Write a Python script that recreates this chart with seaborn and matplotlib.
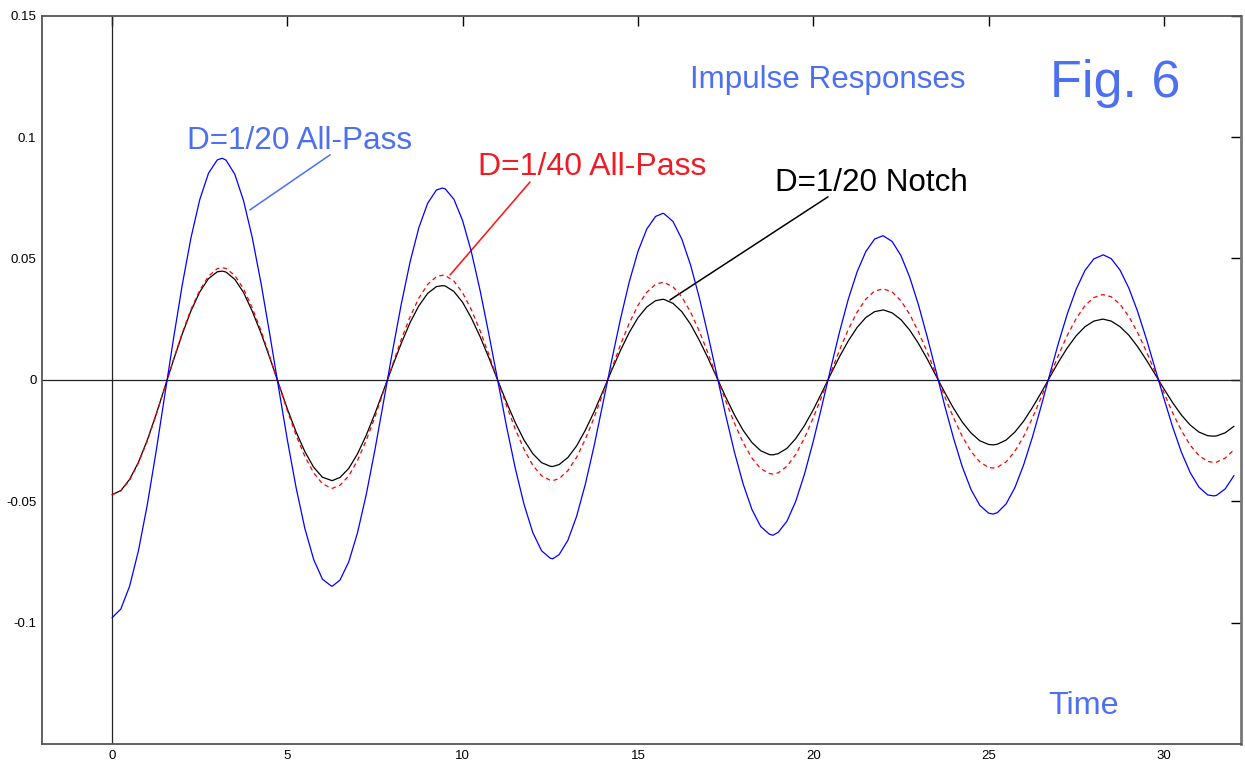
import numpy as np
import pandas as pd
import matplotlib
matplotlib.use('Agg')
import matplotlib.pyplot as plt
import seaborn as sns

time = np.arange(0, 32.25, 0.25)

# D=1/20 all-pass impulse response
allpass_20 = [
    -0.0980, -0.0944, -0.0850, -0.0705, -0.0518, -0.0300, -0.0067, 0.0168,
    0.0390, 0.0585, 0.0742, 0.0851, 0.0906, 0.0905, 0.0847, 0.0738,
    0.0585, 0.0397, 0.0186, -0.0033, -0.0248, -0.0445, -0.0613, -0.0740,
    -0.0821, -0.0849, -0.0825, -0.0750, -0.0630, -0.0472, -0.0286, -0.0085,
    0.0119, 0.0313, 0.0486, 0.0627, 0.0727, 0.0782, 0.0787, 0.0744,
    0.0655, 0.0526, 0.0366, 0.0186, -0.0003, -0.0191, -0.0364, -0.0513,
    -0.0629, -0.0704, -0.0735, -0.0720, -0.0661, -0.0562, -0.0429, -0.0271,
    -0.0097, 0.0080, 0.0250, 0.0403, 0.0529, 0.0621, 0.0673, 0.0684,
    0.0652, 0.0580, 0.0473, 0.0338, 0.0183, 0.0019, -0.0144, -0.0297,
    -0.0429, -0.0534, -0.0604, -0.0636, -0.0628, -0.0582, -0.0500, -0.0388,
    -0.0253, -0.0105, 0.0049, 0.0198, 0.0333, 0.0445, 0.0529, 0.0580,
    0.0593, 0.0570, 0.0512, 0.0423, 0.0309, 0.0177, 0.0036, -0.0107,
    -0.0240, -0.0358, -0.0452, -0.0517, -0.0549, -0.0547, -0.0511, -0.0444,
    -0.0350, -0.0236, -0.0108, 0.0025, 0.0155, 0.0274, 0.0374, 0.0451,
    0.0498, 0.0514, 0.0499, 0.0452, 0.0378, 0.0282, 0.0169, 0.0047,
    -0.0076, -0.0194, -0.0298, -0.0382, -0.0442, -0.0474, -0.0476, -0.0449,
    -0.0394,
]

# D=1/40 all-pass impulse response
allpass_40 = [
    -0.0473, -0.0457, -0.0413, -0.0343, -0.0253, -0.0147, -0.0033, 0.0083,
    0.0193, 0.0290, 0.0369, 0.0427, 0.0458, 0.0459, 0.0430, 0.0375,
    0.0296, 0.0202, 0.0095, -0.0017, -0.0127, -0.0229, -0.0316, -0.0383,
    -0.0428, -0.0446, -0.0434, -0.0396, -0.0332, -0.0249, -0.0152, -0.0045,
    0.0063, 0.0167, 0.0260, 0.0337, 0.0393, 0.0425, 0.0430, 0.0407,
    0.0358, 0.0288, 0.0201, 0.0103, -0.0002, -0.0106, -0.0203, -0.0286,
    -0.0352, -0.0395, -0.0414, -0.0407, -0.0374, -0.0319, -0.0244, -0.0155,
    -0.0056, 0.0046, 0.0144, 0.0233, 0.0307, 0.0361, 0.0393, 0.0401,
    0.0383, 0.0342, 0.0279, 0.0200, 0.0109, 0.0011, -0.0086, -0.0178,
    -0.0259, -0.0322, -0.0366, -0.0386, -0.0383, -0.0356, -0.0307, -0.0239,
    -0.0156, -0.0065, 0.0030, 0.0123, 0.0208, 0.0279, 0.0333, 0.0366,
    0.0375, 0.0362, 0.0326, 0.0270, 0.0198, 0.0114, 0.0023, -0.0069,
    -0.0156, -0.0233, -0.0295, -0.0338, -0.0361, -0.0360, -0.0338, -0.0294,
    -0.0233, -0.0157, -0.0072, 0.0017, 0.0104, 0.0185, 0.0253, 0.0306,
    0.0339, 0.0351, 0.0342, 0.0311, 0.0261, 0.0195, 0.0117, 0.0033,
    -0.0053, -0.0136, -0.0209, -0.0269, -0.0312, -0.0336, -0.0339, -0.0322,
    -0.0288,
]

# D=1/20 notch impulse response
notch_20 = [
    -0.0473, -0.0456, -0.0410, -0.0340, -0.0250, -0.0145, -0.0032, 0.0081,
    0.0188, 0.0284, 0.0362, 0.0417, 0.0445, 0.0444, 0.0414, 0.0360,
    0.0282, 0.0192, 0.0090, -0.0016, -0.0120, -0.0215, -0.0296, -0.0360,
    -0.0401, -0.0414, -0.0402, -0.0365, -0.0305, -0.0228, -0.0138, -0.0041,
    0.0057, 0.0151, 0.0236, 0.0305, 0.0356, 0.0384, 0.0387, 0.0364,
    0.0319, 0.0254, 0.0177, 0.0090, -0.0002, -0.0092, -0.0176, -0.0248,
    -0.0304, -0.0341, -0.0356, -0.0349, -0.0320, -0.0272, -0.0207, -0.0131,
    -0.0047, 0.0039, 0.0121, 0.0195, 0.0256, 0.0300, 0.0326, 0.0331,
    0.0315, 0.0281, 0.0229, 0.0163, 0.0089, 0.0009, -0.0070, -0.0144,
    -0.0208, -0.0258, -0.0292, -0.0308, -0.0304, -0.0282, -0.0242, -0.0188,
    -0.0123, -0.0051, 0.0024, 0.0096, 0.0161, 0.0216, 0.0257, 0.0281,
    0.0288, 0.0276, 0.0248, 0.0205, 0.0150, 0.0086, 0.0017, -0.0052,
    -0.0117, -0.0174, -0.0219, -0.0251, -0.0266, -0.0265, -0.0248, -0.0215,
    -0.0170, -0.0114, -0.0053, 0.0012, 0.0075, 0.0133, 0.0182, 0.0219,
    0.0242, 0.0250, 0.0242, 0.0219, 0.0184, 0.0137, 0.0082, 0.0023,
    -0.0037, -0.0094, -0.0145, -0.0186, -0.0215, -0.0230, -0.0231, -0.0218,
    -0.0191,
]

# extra readings at the peaks and troughs
peak_times = [3.14, 6.28, 9.42, 12.57, 15.71, 18.85, 21.99, 25.13, 28.27, 31.42]
allpass_20_peaks = [0.0913, -0.0850, 0.0790, -0.0737, 0.0686, -0.0640, 0.0594, -0.0553, 0.0515, -0.0478]
allpass_40_peaks = [0.0462, -0.0447, 0.0431, -0.0415, 0.0402, -0.0388, 0.0375, -0.0363, 0.0351, -0.0340]
notch_20_peaks = [0.0448, -0.0415, 0.0388, -0.0357, 0.0332, -0.0309, 0.0288, -0.0268, 0.0250, -0.0232]

x_ticks = [0, 5, 10, 15, 20, 25, 30]
y_ticks = [-0.1, -0.05, 0, 0.05, 0.1, 0.15]
y_tick_labels = ['-0.1', '-0.05', '0', '0.05', '0.1', '0.15']

df = pd.DataFrame({
    't': list(time) + peak_times,
    'ap20': allpass_20 + allpass_20_peaks,
    'ap40': allpass_40 + allpass_40_peaks,
    'notch': notch_20 + notch_20_peaks,
}).sort_values('t')

sns.set_style('white')
plt.rcParams['font.family'] = ['Liberation Sans', 'DejaVu Sans']

text_blue = '#4d6ff2'
text_red = '#ee1c25'

fig = plt.figure(figsize=(12.45, 7.63), dpi=100)
ax = fig.add_axes([0.0337, 0.0249, 0.9631, 0.9545])

# axis lines through the origin
ax.axhline(0, color='#222222', lw=0.9, zorder=1)
ax.axvline(0, color='#222222', lw=0.9, zorder=1)

sns.lineplot(data=df, x='t', y='notch', color='black', lw=0.9, ax=ax, zorder=3)
sns.lineplot(data=df, x='t', y='ap40', color='#ff0000', lw=0.9,
             linestyle=(0, (3.5, 2.8)), ax=ax, zorder=4)
sns.lineplot(data=df, x='t', y='ap20', color='#0000ff', lw=0.9, ax=ax, zorder=5)

ax.set_xlim(-2, 32.2)
ax.set_ylim(-0.15, 0.15)
ax.set_xticks(x_ticks)
ax.set_xticklabels([str(v) for v in x_ticks])
ax.set_yticks(y_ticks)
ax.set_yticklabels(y_tick_labels)
ax.set_xlabel('')
ax.set_ylabel('')
ax.tick_params(direction='in', length=7, width=1, top=True, right=True,
               labelsize=9.5, colors='black')
ax.tick_params(axis='y', pad=4)
ax.tick_params(axis='x', pad=4)
for s in ax.spines.values():
    s.set_color('#555555')
    s.set_linewidth(1.3)
ax.spines['right'].set_color('#777777')
ax.spines['right'].set_linewidth(2)

# labels and leader lines
ax.text(2.14, 0.0951, 'D=1/20 All-Pass', color=text_blue, fontsize=22.7, ha='left', va='baseline')
ax.annotate('', xy=(3.93, 0.0700), xytext=(6.22, 0.0927),
            arrowprops=dict(arrowstyle='-', color=text_blue, lw=1.1, shrinkA=0, shrinkB=0))

ax.text(10.44, 0.0844, 'D=1/40 All-Pass', color=text_red, fontsize=23, ha='left', va='baseline')
ax.annotate('', xy=(9.64, 0.0432), xytext=(11.92, 0.0815),
            arrowprops=dict(arrowstyle='-', color='#ff1010', lw=1.1, shrinkA=0, shrinkB=0))

ax.text(18.91, 0.0778, 'D=1/20 Notch', color='black', fontsize=22.6, ha='left', va='baseline')
ax.annotate('', xy=(15.91, 0.0329), xytext=(20.42, 0.0754),
            arrowprops=dict(arrowstyle='-', color='black', lw=1.1, shrinkA=0, shrinkB=0))

ax.text(16.48, 0.1203, 'Impulse Responses', color=text_blue, fontsize=22.6, ha='left', va='baseline')
ax.text(26.75, 0.1166, 'Fig. 6', color=text_blue, fontsize=37.5, ha='left', va='baseline')
ax.text(26.69, -0.1376, 'Time', color=text_blue, fontsize=23.3, ha='left', va='baseline')

fig.savefig('out.png', dpi=100)
